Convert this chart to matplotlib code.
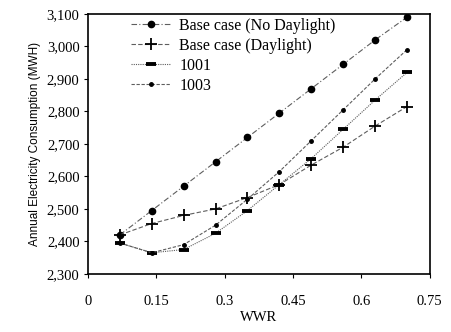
import matplotlib.pyplot as plt

# WWR values and annual electricity consumption (MWH)
wwr = [0.07, 0.14, 0.21, 0.28, 0.35, 0.42, 0.49, 0.56, 0.63, 0.70]
base_no_daylight = [2420, 2495, 2570, 2645, 2720, 2795, 2870, 2945, 3020, 3090]
base_daylight = [2420, 2455, 2480, 2500, 2535, 2575, 2635, 2690, 2755, 2815]
case_1001 = [2395, 2365, 2375, 2425, 2495, 2575, 2655, 2745, 2835, 2920]
case_1003 = [2395, 2365, 2390, 2450, 2530, 2615, 2710, 2805, 2900, 2990]

xticks = [0, 0.15, 0.3, 0.45, 0.6, 0.75]
xtick_labels = ['0', '0.15', '0.3', '0.45', '0.6', '0.75']
yticks = list(range(2300, 3101, 100))

serif = 'Liberation Serif'
line_col = '#5e5e5e'

fig = plt.figure(figsize=(4.51, 3.32), dpi=100)
ax = fig.add_axes([0.195, 0.175, 0.758, 0.783])

ax.plot(wwr, base_no_daylight, color=line_col, lw=0.8, linestyle=(0, (5, 2, 1, 2)),
        marker='o', ms=4.5, mfc='black', mec='black', label='Base case (No Daylight)')
ax.plot(wwr, base_daylight, color=line_col, lw=0.8, linestyle=(0, (4, 2)),
        marker='+', ms=9, mew=1.3, mec='black', label='Base case (Daylight)')
ax.plot(wwr, case_1001, color=line_col, lw=0.8, linestyle=(0, (1, 1)),
        marker='_', ms=7, mew=2.8, mec='black', label='1001')
ax.plot(wwr, case_1003, color=line_col, lw=0.8, linestyle=(0, (3, 1.5)),
        marker='o', ms=2.5, mfc='black', mec='black', label='1003')

ax.set_xlim(0, 0.75)
ax.set_ylim(2300, 3100)
ax.set_xticks(xticks)
ax.set_xticklabels(xtick_labels, fontfamily=serif, fontsize=10.5)
ax.set_yticks(yticks)
ax.set_yticklabels([f'{v:,}' for v in yticks], fontfamily=serif, fontsize=10.5)
ax.tick_params(direction='out', length=3, width=0.8, pad=3)
ax.tick_params(axis='x', pad=12)

for sp in ax.spines.values():
    sp.set_linewidth(1.2)

ax.set_xlabel('WWR', fontfamily=serif, fontsize=10.5, labelpad=2)
ax.set_ylabel('Annual Electricity Consumption (MWH)', fontfamily='Liberation Sans',
              fontsize=8.5, labelpad=4)

ax.legend(loc='upper left', bbox_to_anchor=(0.085, 1.04), frameon=False,
          prop={'family': serif, 'size': 11.5}, handlelength=2.4,
          handletextpad=0.6, labelspacing=0.25)

fig.savefig('out.png', dpi=100)
